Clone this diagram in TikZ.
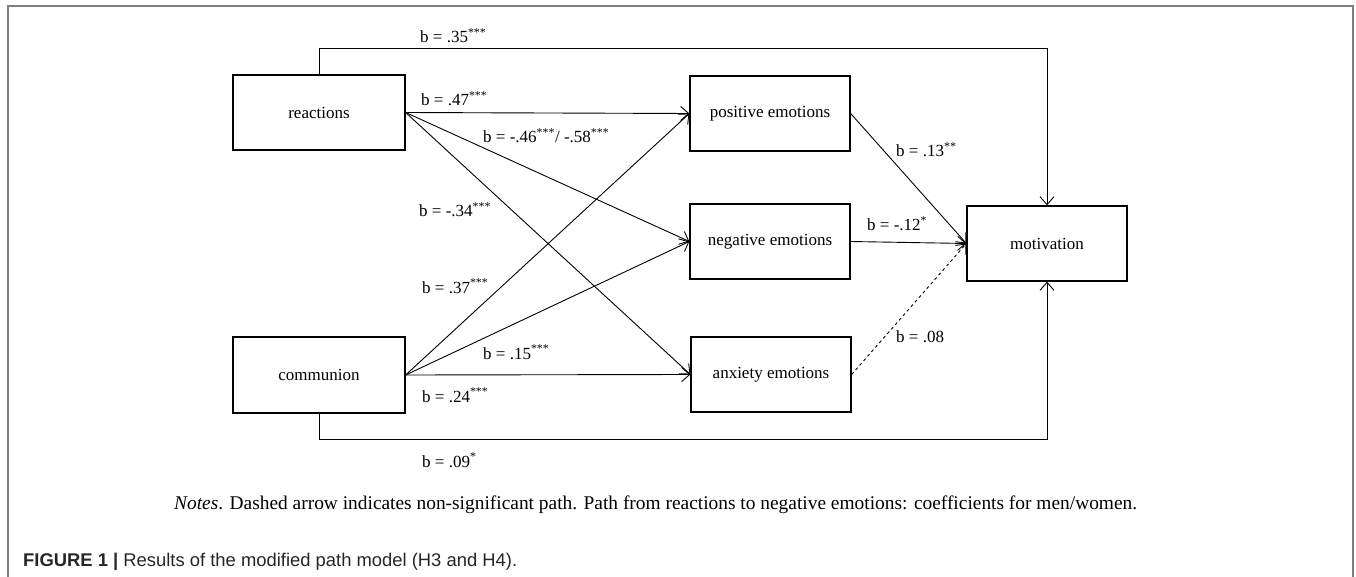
\documentclass[tikz,border=0pt]{standalone}
\usepackage{fontspec}
\setmainfont{Liberation Serif}
\newfontfamily\capfont{Liberation Sans}
\usetikzlibrary{arrows.meta}

\tikzset{
  box/.style={draw, rectangle, line width=1.3pt, minimum width=160pt, minimum height=75pt, inner sep=0pt, font=\fontsize{17}{20}\selectfont},
  arr/.style={-{Straight Barb[length=8pt,width=14pt]}, line width=0.9pt},
  coef/.style={anchor=base west, inner sep=0pt, font=\fontsize{17}{20}\selectfont}
}

\begin{document}
\begin{tikzpicture}[x=1pt,y=-1pt]
\useasboundingbox (0,0) rectangle (1356,577);
\draw[gray, line width=2pt] (8,577) -- (8,6) -- (1353,6) -- (1353,577);

\node[box, minimum width=172pt] (react) at (319,112.5) {reactions};
\node[box, minimum width=172pt, minimum height=76pt] (comm) at (319,375) {communion};
\node[box] (pos) at (770,113.5) {positive emotions};
\node[box] (neg) at (770,241.5) {negative emotions};
\node[box] (anx) at (771,374.5) {anxiety emotions};
\node[box] (motiv) at (1047,243.5) {motivation};

\draw[arr] (react.east) -- (pos.west);
\draw[arr] (react.east) -- (neg.west);
\draw[arr] (react.east) -- (anx.west);
\draw[arr] (comm.east) -- (pos.west);
\draw[arr] (comm.east) -- (neg.west);
\draw[arr] (comm.east) -- (anx.west);
\draw[arr] (pos.east) -- (motiv.west);
\draw[arr] (neg.east) -- (motiv.west);
\draw[arr, dashed] (anx.east) -- (motiv.west);
\draw[arr] (react.north) -- ++(0,-26) -| (motiv.north);
\draw[arr] (comm.south) -- ++(0,26) -| (motiv.south);

\node[coef] (c35) at (420,43) {b = .35\textsuperscript{***}};
\node[coef] (c47) at (421,106) {b = .47\textsuperscript{***}};
\node[coef] (c46) at (483,143) {b = -.46\textsuperscript{***}/ -.58\textsuperscript{***}};
\node[coef] (c34) at (419,217) {b = -.34\textsuperscript{***}};
\node[coef] (c37) at (422,293) {b = .37\textsuperscript{***}};
\node[coef] (c15) at (483,359) {b = .15\textsuperscript{***}};
\node[coef] (c24) at (422,402) {b = .24\textsuperscript{***}};
\node[coef] (c09) at (422,467) {b = .09\textsuperscript{*}};
\node[coef] (c13) at (896,157) {b = .13\textsuperscript{**}};
\node[coef] (c12) at (867,231) {b = -.12\textsuperscript{*}};
\node[coef] (c08) at (896,342) {b = .08};

\node[coef, font=\fontsize{19.4}{22}\selectfont] (notes) at (174,509) {\textit{Notes}. Dashed arrow indicates non-significant path. Path from reactions to negative emotions: coefficients for men/women.};
\node[coef, font=\capfont\fontsize{18.4}{22}\selectfont, text=black!85] (caption) at (23,566) {\textbf{FIGURE 1 |} Results of the modified path model (H3 and H4).};
\end{tikzpicture}
\end{document}
